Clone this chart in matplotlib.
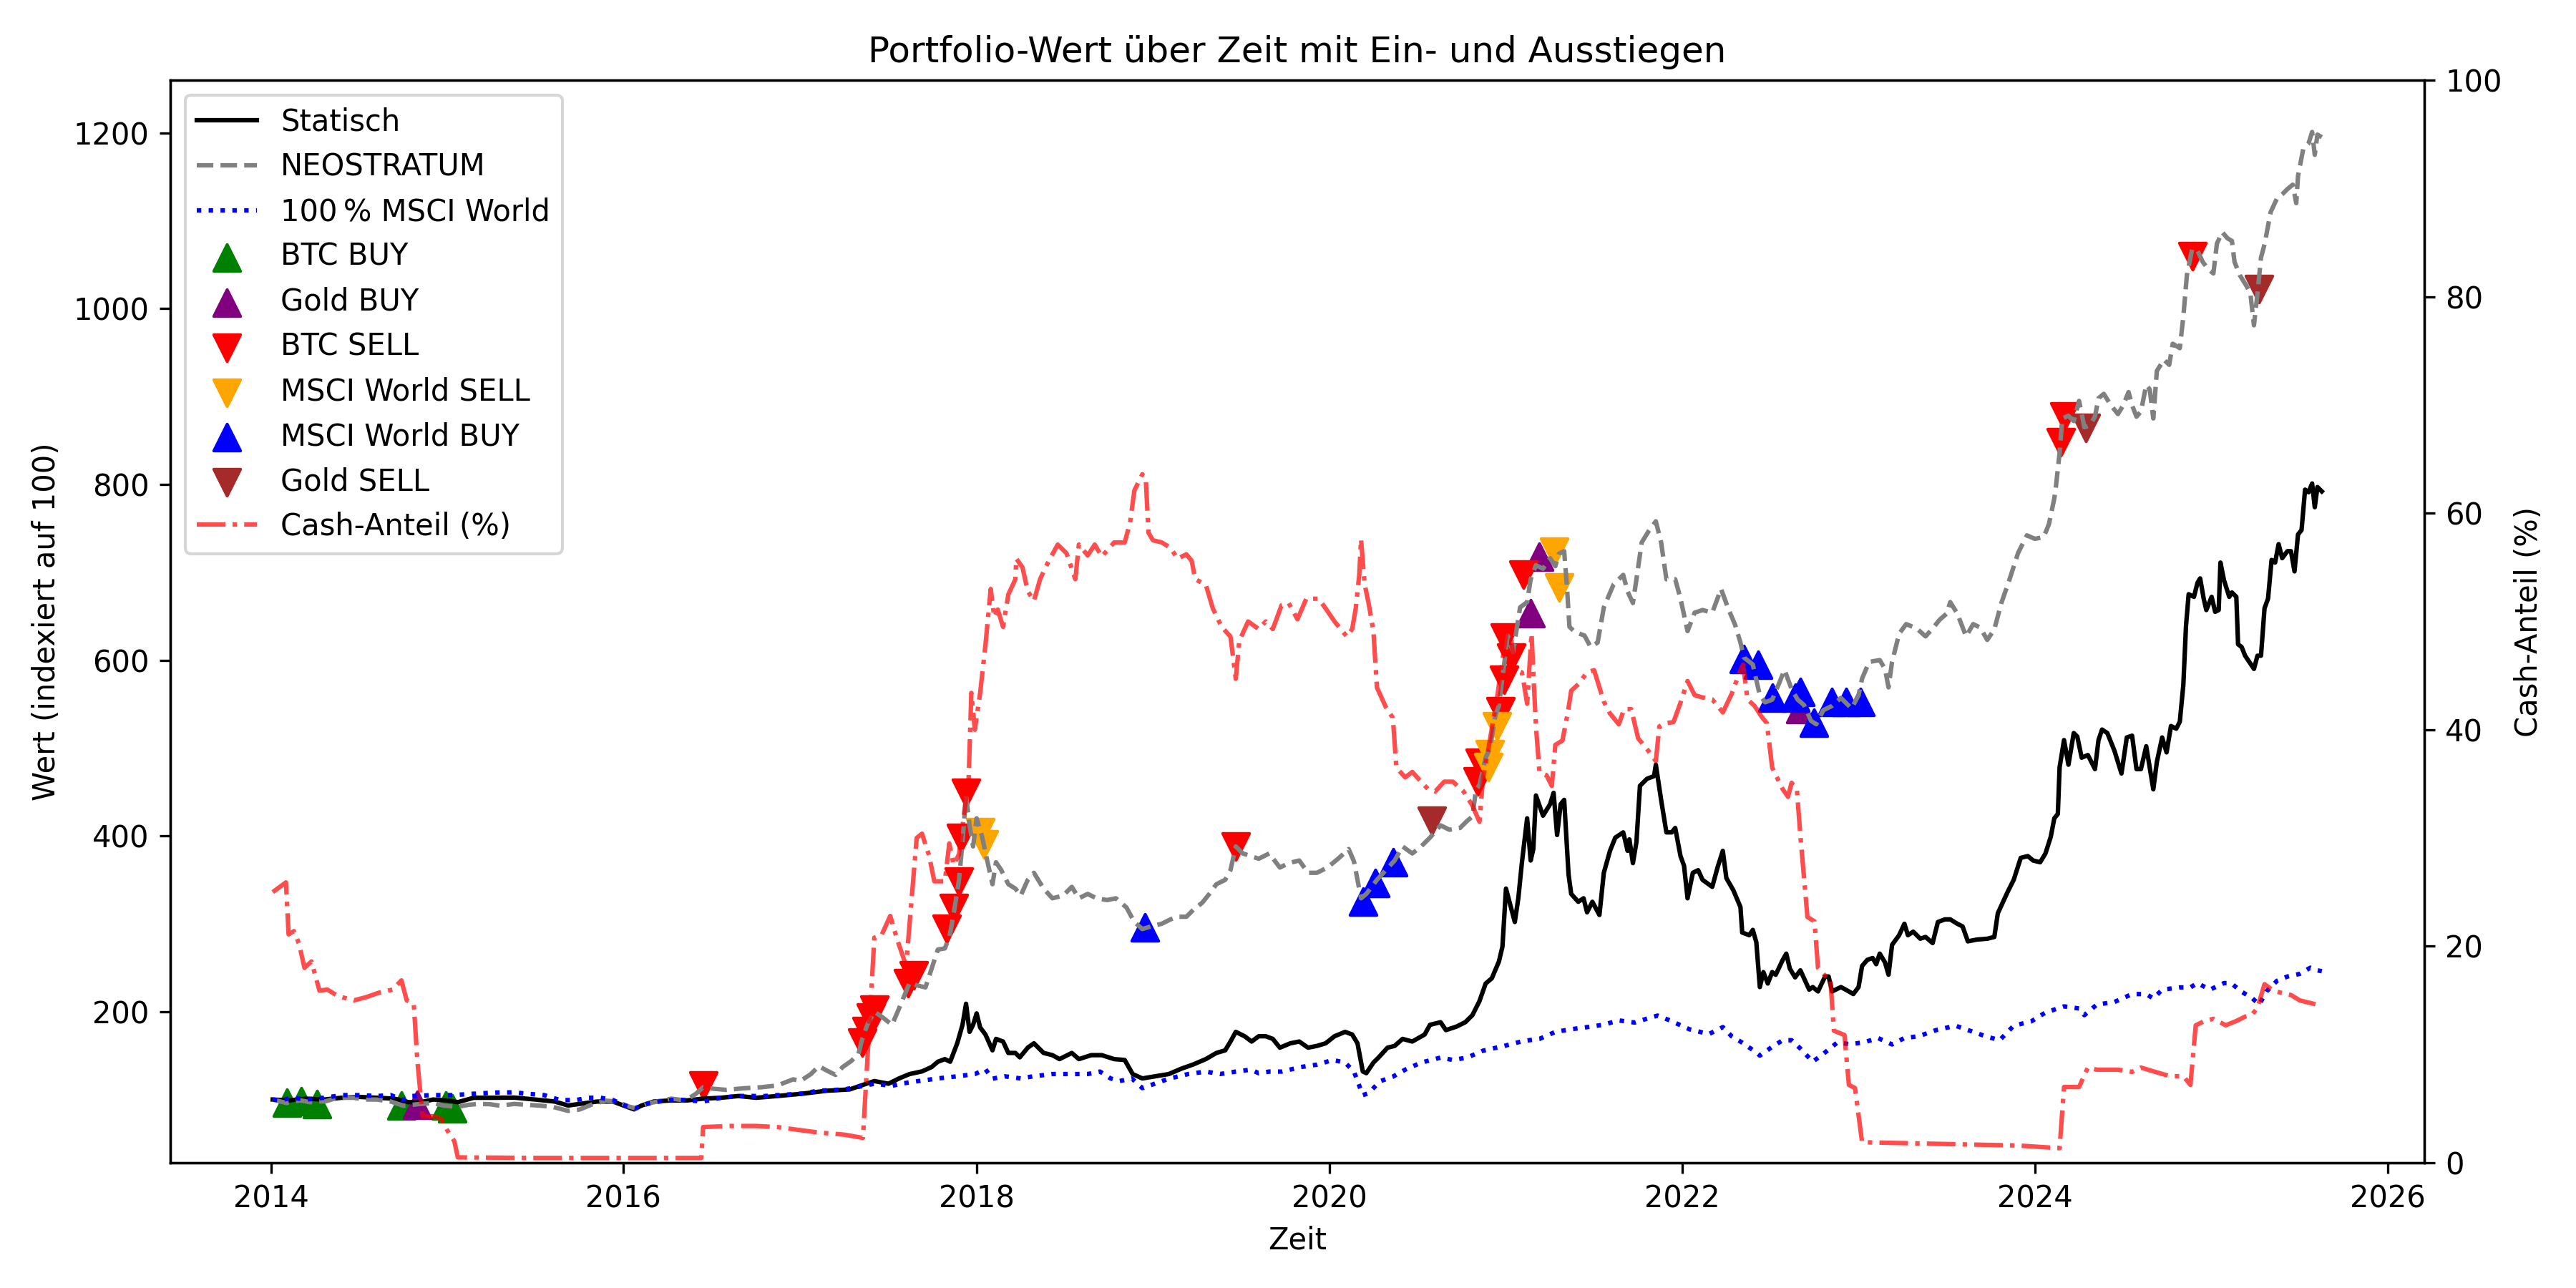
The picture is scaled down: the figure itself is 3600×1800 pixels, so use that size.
import datetime as dt
import matplotlib
matplotlib.use("Agg")
import matplotlib.pyplot as plt
import matplotlib.dates as mdates

# ---------------- data (decimal years) ----------------
stat_t = [2014.01, 2014.1, 2014.2, 2014.3, 2014.4, 2014.5, 2014.6, 2014.7, 2014.78, 2014.85, 2014.92, 2015.0,
          2015.06, 2015.15, 2015.25, 2015.38, 2015.5, 2015.61, 2015.685, 2015.75, 2015.85, 2015.94, 2016.02,
          2016.06, 2016.1, 2016.17, 2016.27, 2016.36, 2016.45, 2016.55, 2016.65, 2016.75, 2016.87, 2017.01,
          2017.15, 2017.28, 2017.36, 2017.42, 2017.5, 2017.56, 2017.62, 2017.69, 2017.745, 2017.78, 2017.82,
          2017.85, 2017.89, 2017.92, 2017.94, 2017.96, 2017.98, 2018.0, 2018.02, 2018.05, 2018.09, 2018.11,
          2018.15, 2018.18, 2018.22, 2018.245, 2018.29, 2018.325, 2018.38, 2018.43, 2018.47, 2018.54, 2018.58,
          2018.65, 2018.71, 2018.78, 2018.84, 2018.885, 2018.94, 2019.0, 2019.09, 2019.16, 2019.23, 2019.3,
          2019.36, 2019.41, 2019.44, 2019.47, 2019.52, 2019.56, 2019.6, 2019.64, 2019.68, 2019.72, 2019.78,
          2019.83, 2019.88, 2019.93, 2019.98, 2020.03, 2020.09, 2020.13, 2020.16, 2020.19, 2020.21, 2020.25,
          2020.28, 2020.33, 2020.37, 2020.415, 2020.47, 2020.54, 2020.57, 2020.63, 2020.66, 2020.72, 2020.77,
          2020.81, 2020.85, 2020.885, 2020.92, 2020.96, 2020.98, 2021.0, 2021.05, 2021.07, 2021.09, 2021.12,
          2021.14, 2021.155, 2021.17, 2021.21, 2021.25, 2021.27, 2021.29, 2021.31, 2021.33, 2021.355, 2021.37,
          2021.41, 2021.44, 2021.46, 2021.49, 2021.53, 2021.555, 2021.59, 2021.62, 2021.665, 2021.69, 2021.70,
          2021.72, 2021.74, 2021.76, 2021.80, 2021.84, 2021.85, 2021.88, 2021.91, 2021.94, 2021.96, 2021.99,
          2022.01, 2022.03, 2022.06, 2022.09, 2022.115, 2022.17, 2022.20, 2022.23, 2022.25, 2022.29, 2022.33,
          2022.34, 2022.38, 2022.40, 2022.42, 2022.44, 2022.46, 2022.485, 2022.51, 2022.53, 2022.57, 2022.59,
          2022.61, 2022.64, 2022.67, 2022.72, 2022.74, 2022.77, 2022.81, 2022.83, 2022.85, 2022.9, 2022.945,
          2022.97, 2023.0, 2023.02, 2023.05, 2023.08, 2023.10, 2023.12, 2023.15, 2023.17, 2023.19, 2023.23,
          2023.26, 2023.28, 2023.31, 2023.35, 2023.38, 2023.42, 2023.45, 2023.49, 2023.52, 2023.56, 2023.59,
          2023.62, 2023.67, 2023.73, 2023.77, 2023.79, 2023.845, 2023.88, 2023.92, 2023.96, 2023.99, 2024.03,
          2024.06, 2024.09, 2024.11, 2024.13, 2024.14, 2024.165, 2024.19, 2024.22, 2024.24, 2024.265, 2024.30,
          2024.34, 2024.36, 2024.38, 2024.41, 2024.45, 2024.49, 2024.52, 2024.55, 2024.575, 2024.6, 2024.63,
          2024.67, 2024.69, 2024.72, 2024.745, 2024.77, 2024.8, 2024.82, 2024.84, 2024.855, 2024.87, 2024.9,
          2024.92, 2024.935, 2024.955, 2024.97, 2025.0, 2025.02, 2025.04, 2025.05, 2025.07, 2025.10, 2025.115,
          2025.14, 2025.15, 2025.17, 2025.19, 2025.21, 2025.24, 2025.26, 2025.28, 2025.30, 2025.32, 2025.34,
          2025.36, 2025.38, 2025.40, 2025.43, 2025.45, 2025.47, 2025.49, 2025.51, 2025.53, 2025.55, 2025.57,
          2025.585, 2025.60, 2025.625]
stat_v = [100, 99, 101, 100, 102, 103, 102, 101, 97, 97, 100, 99,
          97, 102, 102, 102.2, 100, 97.7, 93.2, 95, 97.7, 97.7, 91.7,
          88.8, 93, 97.7, 99, 99, 101, 102, 104, 102, 104, 106.6,
          110, 111.5, 117, 121, 118, 124, 129, 132, 137, 143, 146,
          143, 164, 185, 209, 177, 185, 198, 182, 174, 156, 169,
          166, 153, 153, 148, 159, 164, 153, 150.5, 146, 153, 146,
          150.5, 150.5, 146, 145, 129, 124, 126, 129, 135, 140, 146,
          153, 156, 166, 177, 172, 166, 172, 172, 169, 159, 164,
          166, 159, 161, 164, 172, 177, 174, 164, 132, 130, 142,
          148, 159, 161, 169, 166, 174, 185, 188, 179, 183, 188,
          196, 212, 232, 238, 257, 274, 340, 302, 329, 369, 420,
          372, 385, 446, 423, 436, 449, 401, 436, 441, 356, 334,
          325, 329, 313, 325, 310, 358, 383, 398, 404, 383, 396,
          369, 393, 457, 465, 468, 481, 441, 404, 404, 409, 377,
          366, 329, 358, 361, 350, 342, 364, 383, 352, 338, 319,
          290, 287, 293, 279, 228, 245, 232, 245, 242, 259, 266,
          249, 239, 247, 225, 228, 223, 240, 240, 223, 228, 223,
          220, 228, 252, 259, 261, 254, 266, 256, 242, 276, 287,
          300, 287, 291, 283, 285, 278, 302, 305, 305, 300, 297,
          280, 282, 283, 285, 312, 336, 350, 375, 377, 372, 370,
          380, 399, 420, 425, 478, 509, 481, 517, 513, 489, 492,
          476, 509, 521, 517, 497, 471, 512, 514, 476, 476, 502,
          453, 484, 512, 495, 525, 522, 530, 572, 639, 675, 672,
          688, 693, 670, 657, 672, 655, 657, 711, 691, 672, 677,
          672, 618, 615, 605, 599, 590, 605, 605, 659, 670, 714,
          711, 732, 716, 724, 724, 701, 743, 748, 794, 791, 801,
          774, 797, 792]

neo_t = [2014.01, 2014.05, 2014.09, 2014.13, 2014.17, 2014.22, 2014.27, 2014.31, 2014.36, 2014.41, 2014.47,
         2014.53, 2014.6, 2014.68, 2014.75, 2014.8, 2014.85, 2014.92, 2014.98, 2015.06, 2015.12, 2015.18,
         2015.24, 2015.3, 2015.38, 2015.45, 2015.52, 2015.6, 2015.685, 2015.75, 2015.825, 2015.9, 2015.96,
         2016.03, 2016.07, 2016.15, 2016.27, 2016.35, 2016.41, 2016.45, 2016.48, 2016.58, 2016.68, 2016.78,
         2016.87, 2016.96, 2017.0, 2017.06, 2017.105, 2017.15, 2017.20, 2017.24, 2017.29, 2017.33, 2017.35,
         2017.38, 2017.42, 2017.47, 2017.52, 2017.565, 2017.62, 2017.66, 2017.71, 2017.745, 2017.78, 2017.82,
         2017.845, 2017.86, 2017.88, 2017.90, 2017.92, 2017.94, 2017.96, 2017.98, 2018.0, 2018.03, 2018.06,
         2018.09, 2018.11, 2018.14, 2018.18, 2018.22, 2018.25, 2018.29, 2018.325, 2018.38, 2018.43, 2018.49,
         2018.54, 2018.58, 2018.63, 2018.68, 2018.74, 2018.79, 2018.85, 2018.895, 2018.94, 2018.99, 2019.05,
         2019.1, 2019.14, 2019.19, 2019.23, 2019.28, 2019.32, 2019.36, 2019.41, 2019.44, 2019.47, 2019.51,
         2019.555, 2019.6, 2019.66, 2019.72, 2019.77, 2019.83, 2019.88, 2019.93, 2019.99, 2020.05, 2020.11,
         2020.14, 2020.18, 2020.21, 2020.27, 2020.32, 2020.37, 2020.415, 2020.47, 2020.52, 2020.57, 2020.63,
         2020.68, 2020.74, 2020.78, 2020.81, 2020.83, 2020.85, 2020.885, 2020.91, 2020.94, 2020.96, 2020.99,
         2021.01, 2021.04, 2021.08, 2021.12, 2021.14, 2021.17, 2021.21, 2021.25, 2021.28, 2021.30, 2021.33,
         2021.345, 2021.36, 2021.39, 2021.445, 2021.48, 2021.52, 2021.555, 2021.61, 2021.665, 2021.69, 2021.72,
         2021.74, 2021.77, 2021.81, 2021.85, 2021.88, 2021.91, 2021.96, 2021.99, 2022.03, 2022.07, 2022.115,
         2022.17, 2022.22, 2022.26, 2022.30, 2022.33, 2022.35, 2022.40, 2022.44, 2022.47, 2022.51, 2022.55,
         2022.58, 2022.62, 2022.655, 2022.69, 2022.73, 2022.76, 2022.80, 2022.85, 2022.90, 2022.96, 2023.0,
         2023.02, 2023.06, 2023.12, 2023.15, 2023.17, 2023.19, 2023.23, 2023.27, 2023.33, 2023.38, 2023.42,
         2023.46, 2023.5, 2023.52, 2023.56, 2023.61, 2023.65, 2023.69, 2023.73, 2023.77, 2023.81, 2023.855,
         2023.905, 2023.955, 2024.0, 2024.05, 2024.08, 2024.11, 2024.12, 2024.14, 2024.155, 2024.19, 2024.22,
         2024.25, 2024.28, 2024.31, 2024.34, 2024.36, 2024.39, 2024.43, 2024.47, 2024.50, 2024.53, 2024.55,
         2024.575, 2024.6, 2024.63, 2024.65, 2024.67, 2024.69, 2024.73, 2024.76, 2024.78, 2024.82, 2024.84,
         2024.86, 2024.89, 2024.92, 2024.95, 2024.98, 2025.01, 2025.03, 2025.06, 2025.09, 2025.115, 2025.13,
         2025.16, 2025.20, 2025.22, 2025.24, 2025.26, 2025.28, 2025.30, 2025.335, 2025.37, 2025.40, 2025.43,
         2025.46, 2025.48, 2025.49, 2025.52, 2025.55, 2025.57, 2025.585, 2025.60, 2025.625]
neo_v = [100, 98, 96, 98, 99, 97, 97.7, 98, 101, 102, 102,
         100, 100, 97.7, 93, 94, 95, 96, 93, 91.6, 94, 95,
         94.7, 93, 95, 94, 93.2, 91.6, 87.1, 88.6, 94.7, 98.7, 97.7,
         92, 90, 96, 101, 99, 106.6, 114, 112.8, 111, 112.8, 114,
         116, 123, 121, 129, 138, 133, 128, 137, 144, 152, 168,
         185, 200, 193, 185, 206, 233, 230, 227.6, 249, 270.6, 272,
         285, 300, 324, 350, 393, 446, 412, 388, 420, 400, 372,
         345, 370, 361, 345, 340, 332, 350, 358, 340, 329, 332,
         342, 329, 334, 329, 327, 329, 318.5, 302, 294, 297, 300,
         305, 308, 308, 316, 324, 334, 345, 350, 361, 388, 380,
         377, 374, 380, 364, 369, 372, 358, 358, 364, 374, 385,
         371, 329, 334, 350, 361, 372, 388, 380, 388, 398, 412,
         407, 409, 417, 422, 452, 458, 489, 500, 537, 548, 596,
         628, 609, 660, 666, 692, 708, 704, 716, 707, 721, 724,
         686, 638, 632, 628, 615, 620, 660, 686, 697, 678, 665,
         692, 734, 747, 758, 734, 692, 692, 670, 633, 654, 657,
         654, 681, 659, 640, 620, 603, 595, 560, 552, 555, 574,
         589, 567, 555, 549, 531, 527, 543, 548, 557, 545, 560,
         579, 598, 600, 590, 569, 598, 630, 641, 636, 627, 636,
         646, 653, 666, 653, 627, 641, 637, 623, 635, 665, 691,
         722, 742, 738, 740, 755, 784, 799, 836, 875, 878, 872,
         895, 865, 867, 877, 898, 903, 890, 880, 890, 905, 890,
         877, 883, 913, 908, 875, 929, 942, 936, 960, 955, 991,
         1038, 1068, 1066, 1053, 1045, 1040, 1074, 1087, 1080, 1077, 1053,
         1038, 1025, 1017, 981, 1017, 1058, 1073, 1110, 1125, 1130, 1136,
         1141, 1120, 1151, 1182, 1188, 1201, 1175, 1198, 1195]

msci_t = [2014.01, 2014.05, 2014.12, 2014.2, 2014.3, 2014.405, 2014.5, 2014.6, 2014.68, 2014.75, 2014.8,
          2014.92, 2015.03, 2015.15, 2015.28, 2015.38, 2015.45, 2015.55, 2015.64, 2015.73, 2015.8, 2015.87,
          2015.94, 2016.01, 2016.07, 2016.13, 2016.2, 2016.3, 2016.37, 2016.45, 2016.55, 2016.65, 2016.8,
          2016.87, 2017.0, 2017.105, 2017.25, 2017.36, 2017.42, 2017.52, 2017.57, 2017.67, 2017.78, 2017.89,
          2017.99, 2018.05, 2018.09, 2018.16, 2018.25, 2018.32, 2018.43, 2018.54, 2018.63, 2018.70, 2018.76,
          2018.81, 2018.88, 2018.94, 2019.01, 2019.09, 2019.2, 2019.30, 2019.38, 2019.47, 2019.555, 2019.6,
          2019.66, 2019.73, 2019.84, 2019.93, 2020.02, 2020.09, 2020.14, 2020.19, 2020.22, 2020.29, 2020.36,
          2020.43, 2020.52, 2020.63, 2020.7, 2020.78, 2020.87, 2020.99, 2021.10, 2021.19, 2021.28, 2021.37,
          2021.46, 2021.55, 2021.64, 2021.73, 2021.815, 2021.86, 2021.93, 2022.04, 2022.1, 2022.15, 2022.23,
          2022.28, 2022.33, 2022.41, 2022.44, 2022.51, 2022.57, 2022.62, 2022.67, 2022.74, 2022.8, 2022.88,
          2022.95, 2023.03, 2023.11, 2023.19, 2023.26, 2023.34, 2023.44, 2023.55, 2023.65, 2023.72, 2023.80,
          2023.88, 2023.98, 2024.06, 2024.165, 2024.25, 2024.28, 2024.35, 2024.45, 2024.55, 2024.63, 2024.67,
          2024.72, 2024.82, 2024.88, 2024.92, 2024.99, 2025.07, 2025.11, 2025.17, 2025.23, 2025.27, 2025.31,
          2025.37, 2025.43, 2025.5, 2025.56, 2025.6, 2025.625]
msci_v = [100, 99, 102, 100, 102, 105, 105, 104, 105, 99.4, 104,
          105, 105, 106.6, 108, 108.2, 106.6, 105, 99.4, 99.4, 102, 102,
          99.4, 93, 90.4, 95, 97.7, 100, 99, 97.7, 102, 104, 104,
          105, 106.6, 110, 111.5, 115.6, 118, 115.6, 118, 121, 124, 126.4,
          129, 134.4, 123.7, 126.4, 124, 126.4, 129, 129, 129, 131.8, 124,
          121, 124, 113, 118, 123.7, 129, 131.8, 129, 131.8, 134, 130,
          131.8, 131.8, 137, 139.7, 145, 142, 131.8, 105, 107, 121, 126,
          134, 142, 147.7, 145, 147.7, 155.6, 161, 166.7, 169, 177, 180,
          182.4, 185, 190, 187.6, 193, 195.5, 190, 180, 177, 174.4, 182.4,
          172, 166, 155, 150, 160, 167.5, 167.5, 158, 143, 152, 165,
          163, 165, 170, 162.7, 170, 172, 179, 184, 177, 172, 167.5,
          184, 189, 199, 206, 203.6, 196, 208, 211, 220, 220, 215,
          225, 227.6, 227.6, 232.5, 225, 232.5, 232.5, 222.7, 215.4, 208, 222.7,
          235, 240, 243, 250, 247, 246]

cash_t = [2014.01, 2014.085, 2014.10, 2014.13, 2014.16, 2014.19, 2014.23, 2014.275, 2014.32, 2014.38,
          2014.47, 2014.54, 2014.61, 2014.69, 2014.74, 2014.77, 2014.81, 2014.83, 2014.86, 2014.93, 2014.97,
          2015.0, 2015.04, 2015.06, 2015.5, 2016.0, 2016.44, 2016.45, 2016.6, 2016.75, 2016.87, 2017.1,
          2017.25, 2017.355, 2017.42, 2017.46, 2017.51, 2017.55, 2017.60, 2017.66, 2017.69, 2017.73, 2017.76,
          2017.82, 2017.845, 2017.87, 2017.90, 2017.955, 2017.97, 2017.99, 2018.02, 2018.05, 2018.08, 2018.10,
          2018.12, 2018.15, 2018.18, 2018.22, 2018.225, 2018.26, 2018.29, 2018.325, 2018.36, 2018.40, 2018.46,
          2018.51, 2018.56, 2018.58, 2018.63, 2018.67, 2018.71, 2018.78, 2018.84, 2018.87, 2018.895, 2018.94,
          2018.96, 2018.975, 2019.0, 2019.05, 2019.10, 2019.14, 2019.19, 2019.22, 2019.24, 2019.30, 2019.34,
          2019.39, 2019.44, 2019.47, 2019.49, 2019.54, 2019.60, 2019.64, 2019.68, 2019.73, 2019.77, 2019.82,
          2019.87, 2019.94, 2019.98, 2020.03, 2020.10, 2020.13, 2020.15, 2020.17, 2020.18, 2020.20, 2020.225,
          2020.25, 2020.27, 2020.32, 2020.36, 2020.38, 2020.43, 2020.47, 2020.52, 2020.56, 2020.60, 2020.65,
          2020.70, 2020.76, 2020.81, 2020.85, 2020.87, 2020.90, 2020.95, 2021.0, 2021.02, 2021.05, 2021.09,
          2021.10, 2021.12, 2021.145, 2021.155, 2021.17, 2021.19, 2021.23, 2021.26, 2021.28, 2021.32, 2021.35,
          2021.37, 2021.41, 2021.46, 2021.50, 2021.555, 2021.59, 2021.64, 2021.67, 2021.71, 2021.75, 2021.81,
          2021.85, 2021.87, 2021.90, 2021.95, 2021.99, 2022.03, 2022.07, 2022.11, 2022.17, 2022.23, 2022.28,
          2022.33, 2022.345, 2022.37, 2022.41, 2022.45, 2022.48, 2022.51, 2022.57, 2022.60, 2022.62, 2022.65,
          2022.67, 2022.71, 2022.75, 2022.77, 2022.82, 2022.84, 2022.86, 2022.92, 2022.945, 2022.98, 2023.02,
          2023.3, 2023.6, 2023.9, 2024.14, 2024.165, 2024.25, 2024.30, 2024.35, 2024.47, 2024.55, 2024.60,
          2024.68, 2024.765, 2024.84, 2024.88, 2024.91, 2024.96, 2025.01, 2025.08, 2025.14, 2025.19, 2025.23,
          2025.26, 2025.30, 2025.35, 2025.395, 2025.45, 2025.50, 2025.55, 2025.625]
cash_v = [25.0, 25.9, 21.1, 21.4, 20.2, 18.0, 18.6, 15.9, 16.0, 15.4,
          15.0, 15.3, 15.7, 16.0, 16.85, 15.0, 14.7, 9.5, 4.3, 4.3, 4.0,
          3.0, 2.0, 0.5, 0.45, 0.45, 0.45, 3.3, 3.4, 3.4, 3.3, 2.8,
          2.6, 2.3, 20.8, 21, 22.8, 20.6, 18.2, 30, 30.4, 28.4, 26.0,
          26.0, 29.5, 27.5, 28.5, 35.6, 43.4, 40, 43.4, 47.8, 53, 50.4,
          51.1, 49.5, 52.5, 53.9, 55.8, 55, 52.8, 51.9, 53.9, 55.3, 57.1,
          56.3, 53.9, 57.1, 56.1, 57.1, 56.0, 57.3, 57.3, 59.1, 62.1, 63.6,
          63, 58.2, 57.5, 57.3, 56.8, 55.8, 56.2, 55.6, 53.9, 53.4, 51.2,
          49.5, 48.6, 44.7, 48.2, 50.0, 49.3, 50, 49.3, 51.5, 51.7, 50.2,
          52.1, 52.1, 51.2, 50, 48.6, 49.3, 51.2, 54.3, 57.6, 53.5, 51.5,
          49.1, 43.9, 42.1, 41.1, 36.5, 35.6, 36.1, 35.2, 34.5, 34.3, 35.2,
          35.2, 34.3, 33.0, 31.5, 35.5, 38.2, 43, 48.7, 49.6, 45.6, 45.3,
          44.4, 42.4, 48.9, 45.3, 40.3, 36.1, 35.8, 34.8, 38.6, 39, 41.5,
          43.6, 44.2, 45.3, 45.5, 42.6, 41.5, 40.5, 41.9, 41.9, 39.2, 38.0,
          37.1, 40.3, 40.6, 40.7, 42.5, 44.5, 43.2, 43, 42.8, 41.6, 43.3,
          45.5, 46, 42.8, 42.2, 41.2, 40.6, 36.5, 34.5, 33.8, 35.1, 34.5,
          30.2, 22.7, 22.3, 18.0, 17.1, 17.0, 12.2, 11.8, 7.2, 6.9, 1.9,
          1.8, 1.7, 1.6, 1.35, 7.0, 7.0, 8.8, 8.6, 8.6, 8.4, 8.8,
          8.4, 8.0, 8.0, 7.2, 12.7, 13.1, 13.3, 12.7, 13.1, 13.5, 13.7,
          14.3, 16.5, 15.9, 15.7, 15.5, 15.0, 14.8, 14.5]

# trade markers (date, portfolio value)
btc_buy_t = [2014.09, 2014.17, 2014.26, 2014.74, 2014.99, 2015.03]
btc_buy_v = [96.7, 98, 94.8, 92.8, 92.8, 90]
gold_buy_t = [2014.83, 2021.14, 2021.19, 2022.67]
gold_buy_v = [94, 653, 718, 544]
btc_sell_t = [2016.45, 2017.35, 2017.375, 2017.40, 2017.42, 2017.61, 2017.645, 2017.83, 2017.87, 2017.90,
              2017.91, 2017.94, 2019.47, 2020.84, 2020.85, 2020.97, 2020.99, 2020.995, 2021.03, 2021.10,
              2024.145, 2024.165, 2024.89]
btc_sell_v = [116, 165, 178, 193, 202, 232, 241, 294, 318, 348,
              398, 449, 388, 462, 483, 542, 578, 626, 603, 697,
              848, 877, 1060]
msci_sell_t = [2018.02, 2018.04, 2020.90, 2020.91, 2020.95, 2021.275, 2021.30]
msci_sell_v = [404, 390, 478, 493, 525, 723, 683]
msci_buy_t = [2018.955, 2020.19, 2020.26, 2020.36, 2022.35, 2022.43, 2022.51, 2022.64, 2022.67, 2022.745,
              2022.85, 2022.93, 2023.01]
msci_buy_v = [296, 325, 346, 370, 601, 594.5, 557, 557, 564, 529,
              552, 552, 552]
gold_sell_t = [2020.58, 2024.29, 2025.27]
gold_sell_v = [417, 864, 1022]


def to_dates(years):
    out = []
    for y in years:
        yr = int(y)
        start = dt.datetime(yr, 1, 1)
        span = (dt.datetime(yr + 1, 1, 1) - start).total_seconds()
        out.append(start + dt.timedelta(seconds=(y - yr) * span))
    return out


fig, ax1 = plt.subplots(figsize=(12, 6), dpi=300)
fig.subplots_adjust(left=0.0661, right=0.9411, top=0.9378, bottom=0.0972)

ax1.plot(to_dates(stat_t), stat_v, color="black", linestyle="-", lw=1.5, label="Statisch")
ax1.plot(to_dates(neo_t), neo_v, color="gray", linestyle="--", lw=1.5, label="NEOSTRATUM")
ax1.plot(to_dates(msci_t), msci_v, color="blue", linestyle=":", lw=1.5, label="100\u2009% MSCI World")

ms = 80
ax1.scatter(to_dates(btc_buy_t), btc_buy_v, marker="^", color="green", s=ms, label="BTC BUY")
ax1.scatter(to_dates(gold_buy_t), gold_buy_v, marker="^", color="purple", s=ms, label="Gold BUY")
ax1.scatter(to_dates(btc_sell_t), btc_sell_v, marker="v", color="red", s=ms, label="BTC SELL")
ax1.scatter(to_dates(msci_sell_t), msci_sell_v, marker="v", color="orange", s=ms, label="MSCI World SELL")
ax1.scatter(to_dates(msci_buy_t), msci_buy_v, marker="^", color="blue", s=ms, label="MSCI World BUY")
ax1.scatter(to_dates(gold_sell_t), gold_sell_v, marker="v", color="brown", s=ms, label="Gold SELL")

ax1.set_ylim(28, 1260)
ax1.set_xlabel("Zeit")
ax1.set_ylabel("Wert (indexiert auf 100)")
ax1.set_title("Portfolio-Wert über Zeit mit Ein- und Ausstiegen")
ax1.xaxis.set_major_locator(mdates.YearLocator(2))
ax1.xaxis.set_major_formatter(mdates.DateFormatter("%Y"))

ax2 = ax1.twinx()
ax2.plot(to_dates(cash_t), cash_v, color="red", linestyle="-.", lw=1.5, alpha=0.7, label="Cash-Anteil (%)")
ax2.set_ylim(0, 100)
ax2.set_ylabel("Cash-Anteil (%)")

h1, l1 = ax1.get_legend_handles_labels()
h2, l2 = ax2.get_legend_handles_labels()
ax2.legend(h1 + h2, l1 + l2, loc="upper left")

fig.savefig("out.png", dpi=300)
